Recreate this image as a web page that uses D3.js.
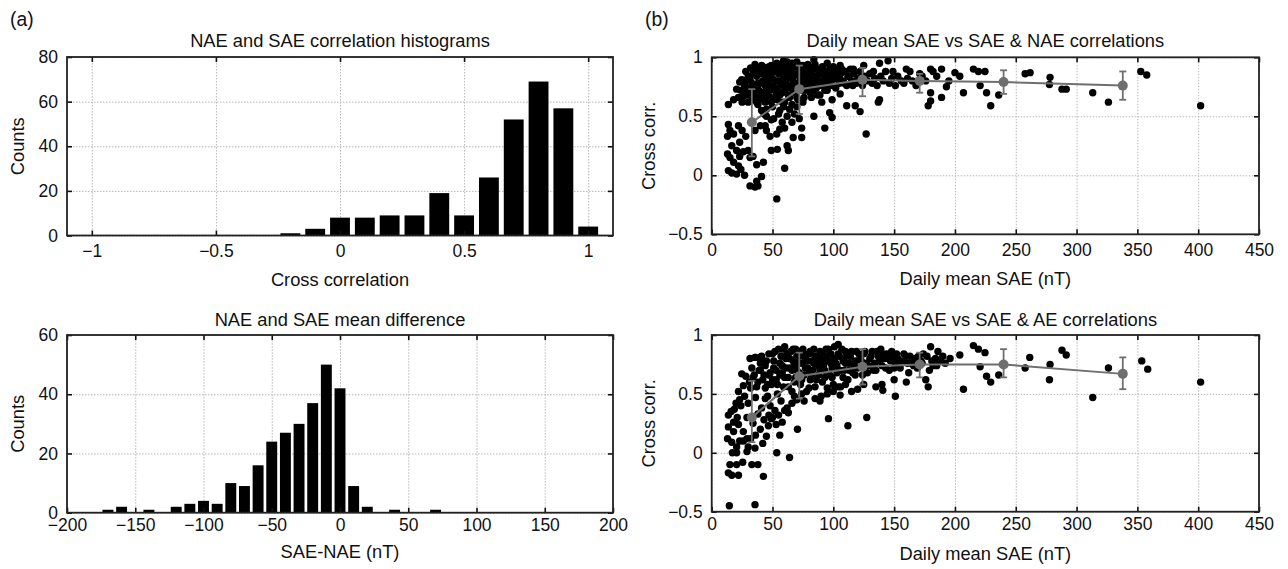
<!DOCTYPE html>
<html>
<head>
<meta charset="utf-8">
<script src="https://cdn.jsdelivr.net/npm/d3@7.9.0/dist/d3.min.js"></script>
<style>
  body { margin: 0; background: #fff; }
  svg { font-family: "Liberation Sans", Arial, Helvetica, sans-serif; }
</style>
</head>
<body>
<svg id="chart" width="1288" height="569"></svg>
<script>
// ---- data ----
// (a) top: histogram of NAE/SAE cross correlations
const corrCentres = [-0.2, -0.1, 0, 0.1, 0.2, 0.3, 0.4, 0.5, 0.6, 0.7, 0.8, 0.9, 1.0];
const corrCounts  = [1, 3, 8, 8, 9, 9, 19, 9, 26, 52, 69, 57, 4];
const corrTicksX  = [-1, -0.5, 0, 0.5, 1];
const corrTicksY  = [0, 20, 40, 60, 80];

// (a) bottom: histogram of SAE-NAE mean difference (nT)
const diffCentres = [-170, -160, -150, -140, -130, -120, -110, -100, -90, -80, -70, -60, -50,
                     -40, -30, -20, -10, 0, 10, 20, 30, 40, 50, 60, 70];
const diffCounts  = [1, 2, 0, 1, 0, 2, 3, 4, 3, 10, 9, 16, 24,
                     27, 30, 37, 50, 42, 9, 2, 0, 1, 0, 0, 1];
const diffTicksX  = [-200, -150, -100, -50, 0, 50, 100, 150, 200];
const diffTicksY  = [0, 20, 40, 60];

// (b) daily mean SAE (nT) vs correlation
const saeTicksX  = [0, 50, 100, 150, 200, 250, 300, 350, 400, 450];
const corrTicksB = [-0.5, 0, 0.5, 1];

const naePoints = [
  [13.7,0.43],[15,0.38],[13,0.33],[16.5,0.25],[13,0.18],[15,0.15],[18,0.11],[13.7,0.04],[16.5,0.02],
  [20.5,0.01],[22,0.08],[23,0.16],[20.5,0.21],[23,0.28],[22,0.42],[18,0.35],[25,0.38],[28,0.33],
  [26,0.2],[24,0.05],[27,0.0],[31.5,-0.09],[35.6,-0.1],[37,-0.05],[41,-0.01],[38,-0.09],
  [53.5,-0.2],[60,0.06],[42.5,0.11],[49,0.21],[54,0.22],[62,0.25],[63,0.21],
  [30,0.21],[31.5,0.15],[34,0.16],[37,0.09],
  [35.6,0.38],[40,0.42],[44,0.42],[45,0.38],[48,0.33],[53.5,0.35],[49,0.47],[56,0.39],[60,0.40],
  [67,0.32],[74,0.40],[84,0.50],[93,0.40],[97,0.53],[99,0.49],[90.5,0.62],[99,0.64],[105.6,0.69],[74,0.32],
  [127,0.35],[122,0.54],[118,0.59],[111,0.59],[137,0.62],[138,0.64],[178,0.59],[180,0.63],[180,0.70],
  [189,0.66],[193,0.75],
  [35.6,0.94],[53.5,0.95],[59,0.97],[84,0.98],[75,0.93],[95,0.95],[105.6,0.93],[116.5,0.90],[125,0.93],
  [133,0.88],[138,0.95],[145,0.97],[149,0.88],[160,0.90],[163,0.88],[171,0.86],[180,0.90],[182,0.88],
  [189,0.90],[200,0.87],
  [13.7,0.60],[18,0.64],[20.5,0.73],[23,0.79],[24.7,0.81],[29,0.74],[26,0.67],[33,0.64],[31.5,0.81],
  [34,0.86],[37,0.84],
  [40,0.78],[42,0.70],[44,0.62],[46,0.88],[47,0.75],[48,0.66],[50,0.58],[50,0.82],[52,0.90],[52,0.72],
  [54,0.64],[55,0.80],[56,0.55],[57,0.86],[58,0.70],[59,0.76],[60,0.62],[61,0.92],[62,0.82],[63,0.68],
  [64,0.88],[65,0.74],[66,0.60],[67,0.80],[68,0.92],[69,0.70],[70,0.85],[71,0.64],[72,0.78],[73,0.90],
  [74,0.72],[75,0.84],[76,0.66],[77,0.88],[78,0.76],[79,0.94],[80,0.82],[81,0.70],[82,0.88],[83,0.78],
  [84,0.92],[85,0.84],[86,0.74],[87,0.90],[88,0.80],[89,0.68],[90,0.86],[91,0.92],[92,0.76],[93,0.84],
  [94,0.88],[95,0.72],[96,0.80],[97,0.90],[98,0.84],[100,0.76],[101,0.88],[102,0.82],[104,0.90],[105,0.78],
  [106,0.86],[108,0.80],[110,0.88],[111,0.76],[113,0.84],[115,0.80],[117,0.86],[119,0.78],[120,0.82],
  [122,0.88],[124,0.76],[126,0.84],[128,0.80],[130,0.86],[132,0.78],[134,0.82],[136,0.76],[139,0.84],
  [141,0.80],[143,0.88],[146,0.78],[148,0.82],[151,0.76],[153,0.84],[156,0.80],[158,0.78],[161,0.82],
  [165,0.80],[168,0.76],[173,0.84],[176,0.80],[185,0.84],[195,0.80],
  [38,0.60],[41,0.55],[43,0.52],[45,0.50],[39,0.66],[36,0.72],[34,0.76],[32,0.70],[30,0.62],[28,0.80],
  [27,0.70],[45,0.56],[51,0.48],[55,0.52],[58,0.45],[62,0.50],[64,0.56],[66,0.45],[68,0.52],[70,0.58],
  [72,0.48],[59,0.58],[53,0.68],[47,0.82],[43,0.86],[39,0.90],[41,0.93],[44,0.76],[46,0.70],[49,0.93],
  [56,0.93],[62,0.96],[66,0.95],[70,0.96],[73,0.93],
  [22,0.66],[24,0.72],[25,0.62],[27,0.76],[28,0.88],[29,0.68],[30,0.84],[31,0.72],[32,0.91],[33,0.78],
  [35,0.68],[36,0.88],[37,0.62],[38,0.78],[39,0.72],[40,0.86],[41,0.64],[42,0.80],[42,0.92],[43,0.70],
  [44,0.84],[45,0.66],[46,0.78],[47,0.92],[48,0.72],[48,0.86],[49,0.62],[50,0.76],[51,0.88],[52,0.66],
  [53,0.80],[54,0.92],[54,0.74],[55,0.86],[56,0.68],[57,0.78],[58,0.90],[58,0.62],[59,0.84],[60,0.72],
  [61,0.80],[62,0.88],[63,0.76],[64,0.66],[65,0.90],[66,0.84],[67,0.72],[68,0.78],[69,0.86],[70,0.66],
  [71,0.92],[72,0.72],[73,0.82],[74,0.88],[75,0.62],[76,0.78],[77,0.72],[78,0.86],[79,0.80],[80,0.90],
  [81,0.76],[82,0.66],[83,0.84],[84,0.72],[85,0.94],[86,0.82],[87,0.68],[88,0.88],[89,0.76],[90,0.80],
  [92,0.88],[93,0.72],[94,0.80],[96,0.86],[97,0.76],[99,0.82],[100,0.92],[102,0.74],[103,0.86],[105,0.82],
  [107,0.90],[109,0.78],[112,0.84],[114,0.90],[116,0.76],
  [204,0.84],[207,0.70],[215.2,0.90],[219.3,0.88],[224.7,0.88],[220.7,0.76],[226,0.70],[229.4,0.59],
  [236,0.68],[257.7,0.86],[261.8,0.87],[278.2,0.83],[277.7,0.77],[288,0.73],[291.5,0.73],[313.3,0.70],
  [326.2,0.62],[352.8,0.88],[357.7,0.85],[402,0.59]
];

const aePoints = [
  [14.5,-0.45],[35.6,-0.44],[42.5,-0.20],[13.7,-0.17],[16.5,-0.19],[22,-0.19],[15,-0.10],[20.5,-0.10],
  [33,-0.10],[38,-0.10],[17,0.0],[20.5,0.0],[25.5,-0.08],[29,0.01],[35.6,0.04],[53.5,0.0],[64,-0.04],
  [13,0.12],[16.5,0.09],[20.5,0.05],[23,0.10],[13.7,0.22],[18,0.18],[22,0.24],[26,0.18],[29,0.12],
  [13.7,0.32],[18.6,0.37],[23,0.45],[26,0.57],[24.7,0.67],[31.5,0.80],[35.6,0.81],[40,0.81],
  [56,0.15],[53,0.24],[46.6,0.23],[49,0.29],[70.5,0.20],[96,0.29],[112,0.23],[127.5,0.30],
  [151,0.48],[140.7,0.53],[105.6,0.49],[89,0.44],
  [40,0.70],[42,0.62],[44,0.55],[45,0.78],[46,0.48],[47,0.66],[48,0.40],[49,0.58],[50,0.84],[51,0.72],
  [52,0.36],[53,0.62],[54,0.50],[55,0.88],[56,0.76],[57,0.44],[58,0.68],[59,0.56],[60,0.90],[61,0.80],
  [62,0.38],[63,0.64],[64,0.72],[65,0.86],[66,0.52],[67,0.78],[68,0.60],[69,0.88],[70,0.70],[72,0.82],
  [73,0.58],[74,0.76],[75,0.88],[76,0.66],[77,0.80],[78,0.52],[79,0.72],[80,0.84],[81,0.62],[82,0.78],
  [83,0.70],[84,0.88],[85,0.56],[86,0.74],[87,0.82],[88,0.66],[89,0.86],[90,0.76],[91,0.60],[92,0.80],
  [93,0.70],[94,0.88],[95,0.50],[96,0.78],[97,0.66],[98,0.84],[99,0.72],[100,0.58],[101,0.90],[102,0.76],
  [103,0.68],[104,0.92],[105,0.82],[106,0.56],[108,0.78],[109,0.70],[110,0.86],[112,0.62],[113,0.76],
  [114,0.82],[116,0.68],[118,0.78],[119,0.86],[120,0.72],[122,0.80],[124,0.66],[125,0.84],[127,0.76],
  [128,0.68],[130,0.80],[132,0.86],[134,0.76],[135,0.70],[137,0.82],[139,0.88],[140,0.74],[142,0.80],
  [144,0.84],[146,0.70],[147,0.78],[149,0.82],[151,0.76],[153,0.80],[155,0.72],[157,0.78],[160,0.82],
  [162,0.68],[164,0.76],[167,0.80],[169,0.72],[172,0.78],[174,0.84],[176,0.62],[178,0.56],[179,0.70],
  [180,0.90],[182,0.74],[184,0.80],[186,0.86],[188,0.78],[192,0.76],[196,0.80],
  [20,0.42],[22,0.52],[24,0.40],[27,0.48],[29,0.30],[30,0.42],[32,0.55],[34,0.25],[36,0.47],[38,0.33],
  [40,0.20],[41,0.38],[43,0.28],[44,0.46],[45,0.14],[47,0.32],[38,0.60],[35,0.66],[33,0.72],[40,0.76],
  [36,0.81],[31,0.60],[28,0.65],[50,0.30],[55,0.32],[58,0.26],[60,0.36],[63,0.34],[66,0.42],[68,0.48],
  [70,0.45],[74,0.50],[76,0.44],[80,0.55],[85,0.46],[90,0.48],[95,0.55],[100,0.52],[104,0.56],[110,0.58],
  [115,0.52],[120,0.54],[125,0.58],[135,0.56],[140,0.58],[150,0.62],[160,0.60],[30,0.05],[26,0.10],
  [32,0.12],[36,0.15],[42,0.08],[18,0.26],[16,0.35],[21,0.30],
  [34,0.64],[37,0.56],[39,0.70],[41,0.82],[43,0.66],[44,0.74],[46,0.58],[47,0.84],[48,0.68],[50,0.62],
  [51,0.78],[52,0.86],[53,0.70],[54,0.58],[56,0.66],[57,0.82],[58,0.74],[59,0.88],[60,0.64],[61,0.72],
  [62,0.84],[63,0.56],[64,0.80],[66,0.70],[67,0.88],[68,0.74],[69,0.64],[70,0.82],[71,0.76],[72,0.68],
  [73,0.86],[74,0.62],[76,0.84],[77,0.72],[78,0.78],[80,0.70],[81,0.86],[82,0.66],[84,0.76],[85,0.82],
  [86,0.62],[88,0.78],[89,0.70],[91,0.84],[92,0.74],[93,0.64],[95,0.82],[96,0.88],[98,0.76],[99,0.64],
  [101,0.80],[103,0.74],[104,0.84],[106,0.70],[107,0.88],[108,0.64],[110,0.76],[111,0.82],[113,0.70],
  [115,0.86],[117,0.74],[118,0.66],[121,0.84],[123,0.78],[126,0.86],[129,0.74],[131,0.82],[133,0.70],
  [136,0.86],[138,0.78],[141,0.84],[143,0.72],[145,0.80],[148,0.86],[150,0.72],[152,0.84],[154,0.78],
  [158,0.84],[161,0.76],[163,0.82],[166,0.74],[170,0.82],[173,0.76],[177,0.82],[181,0.78],[185,0.74],
  [190,0.82],
  [204,0.83],[207,0.54],[215.2,0.91],[219.3,0.88],[224.7,0.85],[220.7,0.73],[226,0.65],[229.4,0.60],
  [236,0.66],[257.7,0.72],[261.5,0.81],[278.2,0.75],[277.7,0.62],[288,0.87],[291.5,0.83],[313.3,0.47],
  [326.2,0.72],[353.6,0.78],[358.5,0.71],[402,0.60]
];

// binned means with error bars (grey)
const binSae  = [33, 72, 124, 171, 240, 338];
const naeMean = [0.45, 0.73, 0.81, 0.80, 0.79, 0.76];
const naeLow  = [0.16, 0.52, 0.67, 0.70, 0.69, 0.64];
const naeHigh = [0.73, 0.93, 0.91, 0.86, 0.89, 0.88];
const aeMean  = [0.30, 0.65, 0.73, 0.75, 0.75, 0.67];
const aeLow   = [0.09, 0.46, 0.58, 0.64, 0.64, 0.54];
const aeHigh  = [0.61, 0.85, 0.88, 0.85, 0.88, 0.81];

// ---- drawing ----
const svg = d3.select('#chart');
const FONT = 18.3, TICKFONT = 17.5;

// dotted grid behind the data
function frame(g, x, y, xt, yt, box) {
  const w = box.x1 - box.x0, h = box.y1 - box.y0;
  g.append('g').attr('transform', `translate(0,${box.y1})`)
    .call(d3.axisBottom(x).tickValues(xt).tickSize(-h).tickFormat(''))
    .call(a => a.select('.domain').remove())
    .selectAll('line').attr('stroke', '#b8b8b8').attr('stroke-dasharray', '1.5,1.5').attr('stroke-width', 1);
  g.append('g').attr('transform', `translate(${box.x0},0)`)
    .call(d3.axisLeft(y).tickValues(yt).tickSize(-w).tickFormat(''))
    .call(a => a.select('.domain').remove())
    .selectAll('line').attr('stroke', '#b8b8b8').attr('stroke-dasharray', '1.5,1.5').attr('stroke-width', 1);
}

// box + inward ticks on all four sides, MATLAB style
function axes(g, x, y, xt, yt, box, tickPad) {
  const fmt = d3.format('');
  const xb = g.append('g').attr('transform', `translate(0,${box.y1})`)
    .call(d3.axisBottom(x).tickValues(xt).tickSize(-5).tickPadding(tickPad).tickFormat(d => fmt(d)));
  const xtp = g.append('g').attr('transform', `translate(0,${box.y0})`)
    .call(d3.axisTop(x).tickValues(xt).tickSize(-5).tickFormat(''));
  const yl = g.append('g').attr('transform', `translate(${box.x0},0)`)
    .call(d3.axisLeft(y).tickValues(yt).tickSize(-5).tickPadding(9).tickFormat(d => fmt(d)));
  const yr = g.append('g').attr('transform', `translate(${box.x1},0)`)
    .call(d3.axisRight(y).tickValues(yt).tickSize(-5).tickFormat(''));
  [xb, xtp, yl, yr].forEach(a => {
    a.select('.domain').remove();
    a.selectAll('line').attr('stroke', '#111').attr('stroke-width', 1.6);
    a.selectAll('text').attr('font-size', TICKFONT).attr('fill', '#111')
      .attr('font-family', '"Liberation Sans", Arial, sans-serif');
  });
  g.append('rect')
    .attr('x', box.x0).attr('y', box.y0)
    .attr('width', box.x1 - box.x0).attr('height', box.y1 - box.y0)
    .attr('fill', 'none').attr('stroke', '#222').attr('stroke-width', 1.8);
}

function labels(g, box, title, titleY, xlabel, xlabelY, ylabel, ylabelX) {
  const cx = (box.x0 + box.x1) / 2, cy = (box.y0 + box.y1) / 2;
  g.append('text').attr('x', cx).attr('y', titleY).attr('text-anchor', 'middle')
    .attr('font-size', FONT).attr('fill', '#111').text(title);
  g.append('text').attr('x', cx).attr('y', xlabelY).attr('text-anchor', 'middle')
    .attr('font-size', FONT).attr('fill', '#111').text(xlabel);
  g.append('text').attr('transform', `translate(${ylabelX},${cy}) rotate(-90)`)
    .attr('text-anchor', 'middle').attr('font-size', FONT).attr('fill', '#111').text(ylabel);
}

function histogram(box, centres, counts, binW, xDom, yDom, xt, yt, tickPad) {
  const g = svg.append('g');
  const x = d3.scaleLinear().domain(xDom).range([box.x0, box.x1]);
  const y = d3.scaleLinear().domain(yDom).range([box.y1, box.y0]);
  frame(g, x, y, xt, yt, box);
  g.append('g').selectAll('rect')
    .data(centres.map((c, i) => ({ c, n: counts[i] })).filter(d => d.n > 0))
    .join('rect')
    .attr('x', d => x(d.c - binW * 0.4))
    .attr('width', d => x(d.c + binW * 0.4) - x(d.c - binW * 0.4))
    .attr('y', d => y(d.n))
    .attr('height', d => y(0) - y(d.n))
    .attr('fill', '#000');
  axes(g, x, y, xt, yt, box, tickPad);
  return g;
}

function scatter(box, pts, mean, lo, hi, tickPad) {
  const g = svg.append('g');
  const x = d3.scaleLinear().domain([0, 450]).range([box.x0, box.x1]);
  const y = d3.scaleLinear().domain([-0.5, 1]).range([box.y1, box.y0]);
  frame(g, x, y, saeTicksX, corrTicksB, box);
  g.append('g').selectAll('circle').data(pts).join('circle')
    .attr('cx', d => x(d[0])).attr('cy', d => y(d[1])).attr('r', 3.7).attr('fill', '#000');
  const grey = '#6f6f6f';
  const bins = binSae.map((s, i) => ({ s, m: mean[i], lo: lo[i], hi: hi[i] }));
  g.append('path').datum(bins)
    .attr('d', d3.line().x(d => x(d.s)).y(d => y(d.m)))
    .attr('fill', 'none').attr('stroke', grey).attr('stroke-width', 2);
  const eb = g.append('g').selectAll('g').data(bins).join('g').attr('stroke', grey).attr('stroke-width', 1.8);
  eb.append('line').attr('x1', d => x(d.s)).attr('x2', d => x(d.s)).attr('y1', d => y(d.lo)).attr('y2', d => y(d.hi));
  eb.append('line').attr('x1', d => x(d.s) - 3.5).attr('x2', d => x(d.s) + 3.5).attr('y1', d => y(d.lo)).attr('y2', d => y(d.lo));
  eb.append('line').attr('x1', d => x(d.s) - 3.5).attr('x2', d => x(d.s) + 3.5).attr('y1', d => y(d.hi)).attr('y2', d => y(d.hi));
  g.append('g').selectAll('circle').data(bins).join('circle')
    .attr('cx', d => x(d.s)).attr('cy', d => y(d.m)).attr('r', 5).attr('fill', grey);
  axes(g, x, y, saeTicksX, corrTicksB, box, tickPad);
  return g;
}

const boxA1 = { x0: 67, x1: 613, y0: 57, y1: 235.5 };
const boxA2 = { x0: 67, x1: 613, y0: 335, y1: 512.7 };
const boxB1 = { x0: 711.7, x1: 1259, y0: 57.3, y1: 234.3 };
const boxB2 = { x0: 711.7, x1: 1259, y0: 335, y1: 511.7 };

const gA1 = histogram(boxA1, corrCentres, corrCounts, 0.1, [-1.1, 1.1], [0, 80], corrTicksX, corrTicksY, 9);
labels(gA1, boxA1, 'NAE and SAE correlation histograms', 46.5, 'Cross correlation', 285.5, 'Counts', 24);

const gA2 = histogram(boxA2, diffCentres, diffCounts, 10, [-200, 200], [0, 60], diffTicksX, diffTicksY, 6);
labels(gA2, boxA2, 'NAE and SAE mean difference', 326, 'SAE-NAE (nT)', 558, 'Counts', 24);

const gB1 = scatter(boxB1, naePoints, naeMean, naeLow, naeHigh, 9);
labels(gB1, boxB1, 'Daily mean SAE vs SAE & NAE correlations', 46.5, 'Daily mean SAE (nT)', 284.5, 'Cross corr.', 655);

const gB2 = scatter(boxB2, aePoints, aeMean, aeLow, aeHigh, 6);
labels(gB2, boxB2, 'Daily mean SAE vs SAE & AE correlations', 325.5, 'Daily mean SAE (nT)', 559.5, 'Cross corr.', 655);

// panel letters
svg.append('text').attr('x', 10).attr('y', 26).attr('font-size', FONT + 1).attr('fill', '#111').text('(a)');
svg.append('text').attr('x', 645).attr('y', 26).attr('font-size', FONT + 1).attr('fill', '#111').text('(b)');
</script>
</body>
</html>
